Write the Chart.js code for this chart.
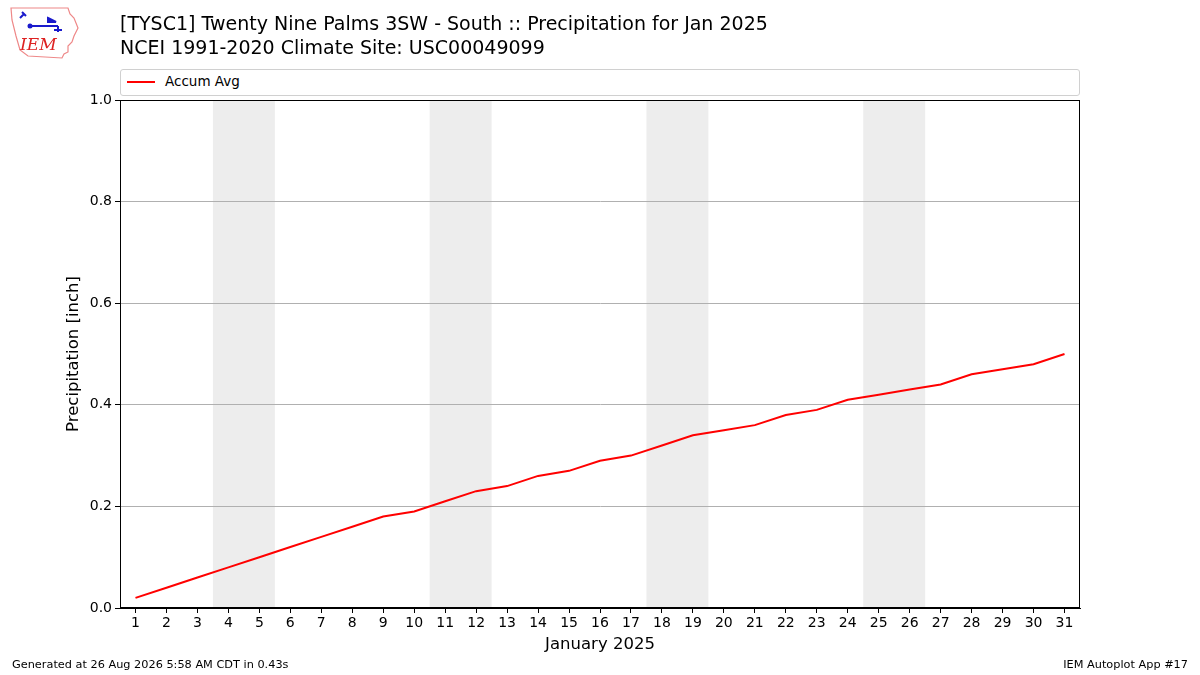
<!DOCTYPE html>
<html>
<head>
<meta charset="utf-8">
<script src="https://cdn.jsdelivr.net/npm/chart.js@4/dist/chart.umd.min.js"></script>
<style>
  body { margin: 0; background: #fff; font-family: "DejaVu Sans", sans-serif; }
  #wrap { position: relative; width: 1200px; height: 675px; }
  #c { position: absolute; left: 0; top: 0; }
  .t { position: absolute; white-space: nowrap; color: #000; }
  #legend { position: absolute; left: 120px; top: 69px; width: 958px; height: 25px;
    border: 1px solid #d0d0d0; border-radius: 3px; background: #fff; }
  #legend .sw { position: absolute; left: 6px; top: 11px; width: 28px; height: 2px; background: #ff0000; }
  #legend .lb { position: absolute; left: 44px; top: 3px; font-size: 13.5px; }
</style>
</head>
<body>
<div id="wrap">
  <canvas id="c" width="1200" height="675"></canvas>
  <svg class="t" style="left:8px;top:6px" width="72" height="54" viewBox="0 0 72 54">
    <path d="M3,2 L60,2 L62,8 L66,12 L70,22 L66,30 L64,36 L60,40 L60,46 L56,48 L54,52 L20,50 L12,44 L8,30 L4,14 Z"
      fill="none" stroke="#e88" stroke-width="1.2"/>
    <path d="M14,6 L18,10 M16,8 L12,12 M22,20 L50,20 M40,12 L48,16 L40,16 Z M50,20 L50,26 M46,24 L54,24"
      stroke="#1a1acc" stroke-width="2" fill="#1a1acc"/>
    <circle cx="22" cy="20" r="2.5" fill="#1a1acc"/>
    <text x="12" y="44" font-family="DejaVu Serif, serif" font-style="italic" font-size="17" fill="#d22">IEM</text>
  </svg>
  <div class="t" style="left:120px;top:12px;font-size:19px">[TYSC1] Twenty Nine Palms 3SW - South :: Precipitation for Jan 2025</div>
  <div class="t" style="left:120px;top:36px;font-size:19px">NCEI 1991-2020 Climate Site: USC00049099</div>
  <div id="legend"><div class="sw"></div><div class="lb t">Accum Avg</div></div>
  <div class="t" style="left:12px;top:658px;font-size:11.3px">Generated at 26 Aug 2026 5:58 AM CDT in 0.43s</div>
  <div class="t" style="right:12px;top:658px;font-size:11.3px">IEM Autoplot App #17</div>
</div>
<script>
const days = Array.from({ length: 31 }, (_, i) => i + 1);
const accumAvg = [0.02, 0.04, 0.06, 0.08, 0.10, 0.12, 0.14, 0.16, 0.18, 0.19,
  0.21, 0.23, 0.24, 0.26, 0.27, 0.29, 0.30, 0.32, 0.34, 0.35,
  0.36, 0.38, 0.39, 0.41, 0.42, 0.43, 0.44, 0.46, 0.47, 0.48, 0.50];
const weekendSpans = [[3.5, 5.5], [10.5, 12.5], [17.5, 19.5], [24.5, 26.5]];
const yTicks = [0, 0.2, 0.4, 0.6, 0.8, 1.0];

const fontFam = '"DejaVu Sans", sans-serif';

// weekend shading behind the line, and full frame around the plot
const framePlugin = {
  id: 'frame',
  beforeDraw(chart) {
    const { ctx, chartArea: a, scales: { x } } = chart;
    ctx.save();
    ctx.fillStyle = '#fff';
    ctx.fillRect(0, 0, chart.width, chart.height);
    ctx.fillStyle = '#ededed';
    weekendSpans.forEach(([s, e]) => {
      const x0 = x.getPixelForValue(s), x1 = x.getPixelForValue(e);
      ctx.fillRect(x0, a.top, x1 - x0, a.bottom - a.top);
    });
    ctx.restore();
  },
  afterDraw(chart) {
    const { ctx, chartArea: a } = chart;
    ctx.save();
    ctx.strokeStyle = '#000';
    ctx.lineWidth = 1;
    ctx.strokeRect(Math.round(a.left) + 0.5, Math.round(a.top) + 0.5,
      Math.round(a.right - a.left) - 1, Math.round(a.bottom - a.top) - 1);
    ctx.restore();
  }
};

new Chart(document.getElementById('c'), {
  type: 'line',
  data: {
    datasets: [{
      label: 'Accum Avg',
      data: days.map((d, i) => ({ x: d, y: accumAvg[i] })),
      borderColor: '#ff0000',
      borderWidth: 2,
      pointRadius: 0,
      tension: 0,
      fill: false
    }]
  },
  options: {
    responsive: false,
    animation: false,
    layout: { padding: { left: 64, right: 120, top: 100, bottom: 20 } },
    plugins: { legend: { display: false }, tooltip: { enabled: false } },
    scales: {
      x: {
        type: 'linear',
        min: 0.5,
        max: 31.5,
        afterBuildTicks: s => { s.ticks = days.map(v => ({ value: v })); },
        afterFit: s => { s.height = 47; },
        grid: { drawOnChartArea: false, drawTicks: true, tickLength: 5, color: '#000' },
        border: { color: '#000' },
        ticks: { color: '#000', font: { family: fontFam, size: 14 }, padding: 2, maxRotation: 0, autoSkip: false,
          callback: v => String(v) },
        title: { display: true, text: 'January 2025', color: '#000', font: { family: fontFam, size: 16.5 }, padding: { top: 0, bottom: 0 } }
      },
      y: {
        min: 0,
        max: 1,
        afterBuildTicks: s => { s.ticks = yTicks.map(v => ({ value: v })); },
        afterFit: s => { s.width = 56; },
        grid: { color: '#b0b0b0', tickColor: '#000', tickLength: 5, drawTicks: true },
        border: { color: '#000' },
        ticks: { color: '#000', font: { family: fontFam, size: 14 }, padding: 3,
          callback: v => v.toFixed(1) },
        title: { display: true, text: 'Precipitation [inch]', color: '#000', font: { family: fontFam, size: 16.5 }, padding: { top: 0, bottom: 4 } }
      }
    }
  },
  plugins: [framePlugin]
});
</script>
</body>
</html>
